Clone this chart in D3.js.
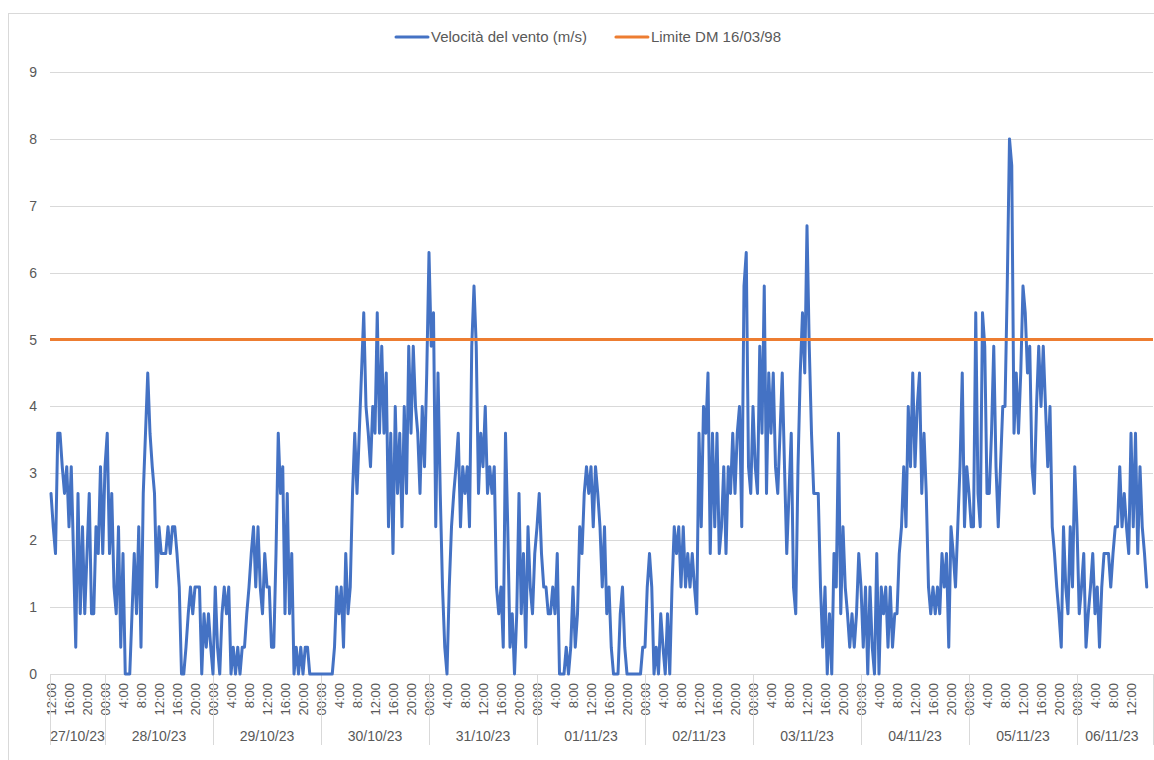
<!DOCTYPE html>
<html>
<head>
<meta charset="utf-8">
<script src="https://cdn.jsdelivr.net/npm/d3@7"></script>
<style>
	body { margin: 0; background: #ffffff; }
	svg { font-family: "Liberation Sans", Arial, sans-serif; }
</style>
</head>
<body>
<script>
const width = 1154, height = 760;

// wind speed every 30 minutes, from 27/10/23 12:00
const windSpeed = [
	2.7, 2.2, 1.8, 3.6, 3.6, 3.1, 2.7, 3.1, 2.2, 3.1, 1.8, 0.4, 2.7, 0.9, 2.2, 0.9, 1.8, 2.7, 0.9, 0.9, 2.2, 1.8, 3.1, 1.8,
	3.1, 3.6, 1.8, 2.7, 1.3, 0.9, 2.2, 0.4, 1.8, 0, 0, 0, 0.9, 1.8, 0.9, 2.2, 0.4, 2.7, 3.6, 4.5, 3.6, 3.1, 2.7, 1.3,
	2.2, 1.8, 1.8, 1.8, 2.2, 1.8, 2.2, 2.2, 1.8, 1.3, 0, 0, 0.4, 0.9, 1.3, 0.9, 1.3, 1.3, 1.3, 0, 0.9, 0.4, 0.9, 0.4,
	0, 1.3, 0.4, 0, 0.9, 1.3, 0.9, 1.3, 0, 0.4, 0, 0.4, 0, 0.4, 0.4, 0.9, 1.3, 1.8, 2.2, 1.3, 2.2, 1.3, 0.9, 1.8,
	1.3, 1.3, 0.4, 0.4, 1.8, 3.6, 2.7, 3.1, 0.9, 2.7, 0.9, 1.8, 0, 0.4, 0, 0.4, 0, 0.4, 0.4, 0, 0, 0, 0, 0,
	0, 0, 0, 0, 0, 0, 0.4, 1.3, 0.9, 1.3, 0.4, 1.8, 0.9, 1.3, 2.7, 3.6, 2.7, 3.6, 4.5, 5.4, 4.0, 3.6, 3.1, 4.0,
	3.6, 5.4, 3.6, 4.9, 3.6, 4.5, 2.2, 3.6, 1.8, 4.0, 2.7, 3.6, 2.2, 4.0, 2.7, 4.9, 3.6, 4.9, 4.0, 3.6, 2.7, 4.0, 3.1, 4.5,
	6.3, 4.9, 5.4, 2.2, 4.5, 2.7, 1.3, 0.4, 0, 1.3, 2.2, 2.7, 3.1, 3.6, 2.2, 3.1, 2.7, 3.1, 2.2, 4.9, 5.8, 4.9, 2.7, 3.6,
	3.1, 4.0, 2.7, 3.1, 2.7, 3.1, 1.3, 0.9, 1.3, 0.4, 3.6, 2.2, 0.4, 0.9, 0, 0.9, 2.7, 0.9, 1.8, 0.4, 2.2, 1.3, 0.9, 1.8,
	2.2, 2.7, 1.8, 1.3, 1.3, 0.9, 0.9, 1.3, 0.9, 1.8, 0, 0, 0, 0.4, 0, 0.4, 1.3, 0.4, 0.9, 2.2, 1.8, 2.7, 3.1, 2.7,
	3.1, 2.2, 3.1, 2.7, 2.2, 1.3, 2.2, 0.9, 1.3, 0.4, 0, 0, 0, 0.9, 1.3, 0.4, 0, 0, 0, 0, 0, 0, 0, 0.4,
	0.4, 1.3, 1.8, 1.3, 0, 0.4, 0, 0.9, 0.4, 0, 0.9, 0, 1.3, 2.2, 1.8, 2.2, 1.3, 2.2, 1.3, 1.8, 1.3, 1.8, 1.3, 0.9,
	3.6, 2.2, 4.0, 3.6, 4.5, 1.8, 3.6, 2.2, 3.6, 1.8, 2.2, 3.1, 1.8, 3.1, 2.7, 3.6, 2.7, 3.6, 4.0, 2.2, 5.8, 6.3, 3.1, 2.7,
	4.0, 3.1, 2.7, 4.9, 3.6, 5.8, 2.7, 4.5, 3.6, 4.5, 3.1, 2.7, 3.6, 4.5, 3.1, 1.8, 2.7, 3.6, 1.3, 0.9, 3.1, 4.5, 5.4, 4.5,
	6.7, 4.9, 3.6, 2.7, 2.7, 2.7, 1.3, 0.4, 1.3, 0, 0.9, 0, 1.8, 1.3, 3.6, 0.9, 2.2, 1.3, 0.9, 0.4, 0.9, 0.4, 0.9, 1.8,
	1.3, 0.4, 1.3, 0, 1.3, 0.4, 0, 1.8, 0, 1.3, 0.9, 1.3, 0.4, 1.3, 0.4, 0.9, 0.9, 1.8, 2.2, 3.1, 2.2, 4.0, 3.1, 4.5,
	3.1, 4.0, 4.5, 2.7, 3.6, 2.7, 1.3, 0.9, 1.3, 0.9, 1.3, 0.9, 1.8, 1.3, 1.8, 0.4, 2.2, 1.8, 1.3, 2.2, 3.1, 4.5, 2.2, 3.1,
	2.7, 2.2, 2.2, 5.4, 2.7, 2.2, 5.4, 4.9, 2.7, 2.7, 3.6, 4.9, 3.1, 2.2, 3.1, 4.0, 4.0, 5.8, 8.0, 7.6, 3.6, 4.5, 3.6, 4.5,
	5.8, 5.4, 4.5, 4.9, 3.1, 2.7, 4.0, 4.9, 4.0, 4.9, 4.0, 3.1, 4.0, 2.2, 1.8, 1.3, 0.9, 0.4, 2.2, 1.3, 0.9, 2.2, 1.3, 3.1,
	2.2, 0.9, 1.3, 1.8, 0.4, 0.9, 1.3, 1.8, 0.9, 1.3, 0.4, 1.3, 1.8, 1.8, 1.8, 1.3, 1.8, 2.2, 2.2, 3.1, 2.2, 2.7, 2.2, 1.8,
	3.6, 2.2, 3.6, 1.8, 3.1, 2.2, 1.8, 1.3
];
const limitDM = 5;
const dayLabels = ["27/10/23", "28/10/23", "29/10/23", "30/10/23", "31/10/23", "01/11/23",
	"02/11/23", "03/11/23", "04/11/23", "05/11/23", "06/11/23"];
const hourLabels = ["00:00", "4:00", "8:00", "12:00", "16:00", "20:00"];
const yTicks = [0, 1, 2, 3, 4, 5, 6, 7, 8, 9];
const seriesNames = ["Velocità del vento (m/s)", "Limite DM 16/03/98"];
const seriesColors = ["#4472C4", "#ED7D31"];

const startHour = 12;        // first sample at 12:00
const pointsPerHour = 2;
const plotLeft = 50, plotRight = 1153, plotTop = 72, plotBottom = 674;
const gridColor = "#d9d9d9", textColor = "#595959";

const svg = d3.select("body")
	.append("svg")
	.attr("width", width)
	.attr("height", height);

const x = d3.scaleLinear().domain([0, 490]).range([51, 1153.5]);
const y = d3.scaleLinear().domain([0, 9]).range([plotBottom, plotTop]);

function main() {
	drawFrame();
	drawYAxis();
	drawXAxis();
	drawSeries();
	drawLegend();
}

function drawFrame() {
	svg.append("rect")
		.attr("x", 8.5).attr("y", 13.5)
		.attr("width", 1160).attr("height", 760)
		.attr("fill", "none")
		.attr("stroke", gridColor);
}

function drawYAxis() {
	const axis = svg.append("g")
		.attr("transform", `translate(${plotLeft},0)`)
		.call(d3.axisLeft(y).tickValues(yTicks).tickSize(-(plotRight - plotLeft)).tickPadding(13));
	axis.select(".domain").remove();
	axis.selectAll(".tick line").attr("stroke", gridColor).attr("shape-rendering", "crispEdges");
	axis.selectAll(".tick text")
		.attr("fill", textColor)
		.style("font-size", "14px")
		.style("font-family", "'Liberation Sans', Arial, sans-serif");
}

function drawXAxis() {
	// hour labels every 4 hours
	const tickIdx = d3.range(0, windSpeed.length, 4 * pointsPerHour);
	const axis = svg.append("g")
		.attr("transform", `translate(0,${plotBottom})`)
		.call(d3.axisBottom(x).tickValues(tickIdx).tickSize(0)
			.tickFormat(i => hourLabels[((startHour + i / pointsPerHour) % 24) / 4]));
	axis.select(".domain").remove();
	axis.selectAll(".tick text")
		.attr("transform", "rotate(-90)")
		.attr("x", -9)
		.attr("y", 0)
		.attr("dy", "0.36em")
		.attr("text-anchor", "end")
		.attr("fill", textColor)
		.style("font-size", "13px")
		.style("font-family", "'Liberation Sans', Arial, sans-serif");

	// day groups
	const dayStart = dayLabels.map((d, k) => k == 0 ? 0 : (24 - startHour) * pointsPerHour + (k - 1) * 24 * pointsPerHour);
	const bounds = dayStart.map((i, k) => k == 0 ? plotLeft : x(i)).concat([plotRight]);

	svg.append("g").selectAll("line")
		.data(bounds)
		.enter()
		.append("line")
		.attr("x1", d => Math.round(d) + 0.5).attr("x2", d => Math.round(d) + 0.5)
		.attr("y1", plotBottom).attr("y2", 745)
		.attr("stroke", gridColor);

	svg.append("line")
		.attr("x1", plotLeft).attr("x2", plotRight)
		.attr("y1", plotBottom + 0.5).attr("y2", plotBottom + 0.5)
		.attr("stroke", gridColor);

	const lastX = x(windSpeed.length - 1);
	svg.append("g").selectAll("text")
		.data(dayLabels)
		.enter()
		.append("text")
		.attr("x", (d, k) => (bounds[k] + Math.min(bounds[k + 1], lastX)) / 2)
		.attr("y", 736)
		.attr("dy", "0.35em")
		.attr("text-anchor", "middle")
		.attr("fill", textColor)
		.style("font-size", "14px")
		.text(d => d);
}

function drawSeries() {
	const line = d3.line()
		.x((d, i) => x(i))
		.y(d => y(d));

	svg.append("path")
		.datum(windSpeed)
		.attr("d", line)
		.attr("fill", "none")
		.attr("stroke", seriesColors[0])
		.attr("stroke-width", 3)
		.attr("stroke-linejoin", "round")
		.attr("stroke-linecap", "round");

	// the limit runs across the whole plot
	svg.append("line")
		.attr("x1", plotLeft).attr("x2", plotRight)
		.attr("y1", y(limitDM)).attr("y2", y(limitDM))
		.attr("stroke", seriesColors[1])
		.attr("stroke-width", 3);
}

function drawLegend() {
	const legend = svg.append("g");
	const items = legend.selectAll("g")
		.data(seriesNames)
		.enter()
		.append("g");
	items.append("line")
		.attr("x1", 0).attr("x2", 32)
		.attr("y1", 37).attr("y2", 37)
		.attr("stroke", (d, k) => seriesColors[k])
		.attr("stroke-width", 3)
		.attr("stroke-linecap", "round");
	items.append("text")
		.attr("x", 35).attr("y", 37)
		.attr("dy", "0.35em")
		.attr("fill", textColor)
		.style("font-size", "15px")
		.text(d => d);

	// lay out the items side by side, centred
	let pos = 0;
	const widths = [];
	items.each(function () {
		const w = 35 + d3.select(this).select("text").node().getComputedTextLength();
		widths.push(w);
	});
	const total = d3.sum(widths) + 29 * (widths.length - 1);
	let start = 588.5 - total / 2;
	items.attr("transform", (d, k) => {
		const t = `translate(${start + pos},0)`;
		pos += widths[k] + 29;
		return t;
	});
}

main();
</script>
</body>
</html>
